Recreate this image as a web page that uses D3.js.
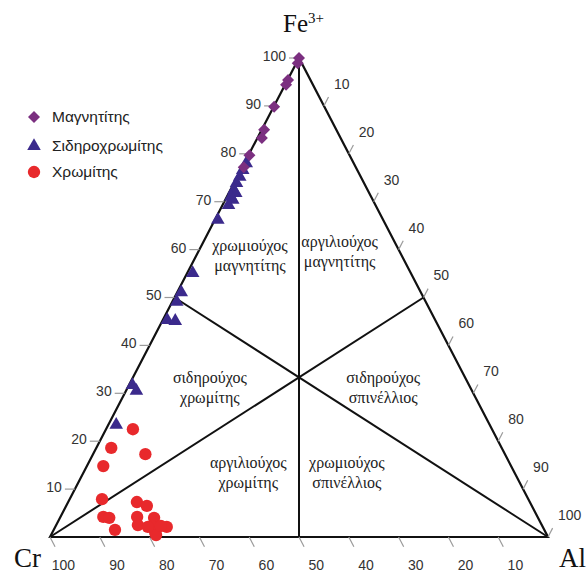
<!DOCTYPE html>
<html>
<head>
<meta charset="utf-8">
<script src="https://cdn.jsdelivr.net/npm/d3@7"></script>
<style>
  body { margin: 0; background: #fff; }
</style>
</head>
<body>
<div id="chart"></div>
<script>
// values, as [Fe3+, Al] percent (Cr = rest)
const magnetite = [[100,0],[98.9,0.3],[95.4,0.1],[94.4,0.2],[89.8,0.1],[85.0,0.5],[83.3,0.9],[79.7,0.2],[77.2,0.3]];
const ferriChromite = [[78.0,0.4],[76.6,0.4],[75.2,0.5],[73.9,0.5],[72.4,0.7],[71.8,1.4],[71.0,0.8],[70.4,1.5],[69.3,1.2],
  [66.2,0.6],[55.1,1.1],[51.1,0.8],[49.1,0.9],[45.3,0.9],[45.1,2.6],[31.7,0.7],[30.5,2.1],[23.4,1.6]];
const chromite = [[22.5,5.4],[18.6,3.0],[17.3,10.5],[14.8,3.3],[7.9,6.5],[4.2,8.6],[4.0,9.9],[1.5,12.3],[7.3,13.8],
  [6.5,16.2],[4.2,15.4],[2.5,16.4],[4.0,18.9],[2.3,19.3],[1.0,20.6],[0.4,21.1],[2.1,22.4],[2.3,21.1],[2.1,18.6]];

const tickValues = [10,20,30,40,50,60,70,80,90,100];
const legendNames = ['Μαγνητίτης','Σιδηροχρωμίτης','Χρωμίτης'];
const regionNames = [
  ['χρωμιούχος','μαγνητίτης'], ['αργιλιούχος','μαγνητίτης'],
  ['σιδηρούχος','χρωμίτης'], ['σιδηρούχος','σπινέλλιος'],
  ['αργιλιούχος','χρωμίτης'], ['χρωμιούχος','σπινέλλιος']
];

const width = 586, height = 574;
const svg = d3.select('#chart').append('svg').attr('width', width).attr('height', height)
  .style('font-family', 'Arial, "Liberation Sans", sans-serif');

//scales (Al along the base, Fe up)
const xScale = d3.scaleLinear().domain([0,100]).range([50,548]);
const yScale = d3.scaleLinear().domain([0,100]).range([537,58]);
const proj = (fe, al) => [xScale(al + fe/2), yScale(fe)];

const crPt = proj(0,0), fePt = proj(100,0), alPt = proj(0,100);

//frame
svg.append('path')
  .attr('d', `M${crPt}L${fePt}L${alPt}Z`)
  .attr('fill', 'none').attr('stroke', '#111').attr('stroke-width', 2.2).attr('stroke-linejoin', 'miter');

// the three medians split the fields
const medians = [[crPt, proj(50,50)], [fePt, proj(0,50)], [alPt, proj(50,0)]];
svg.append('g').selectAll('line').data(medians).join('line')
  .attr('x1', d => d[0][0]).attr('y1', d => d[0][1])
  .attr('x2', d => d[1][0]).attr('y2', d => d[1][1])
  .attr('stroke', '#111').attr('stroke-width', 2);

//ticks
const tickColor = '#9a9a9a', labColor = '#333';
const up = [(fePt[0]-crPt[0]), (fePt[1]-crPt[1])];
const upLen = Math.hypot(up[0], up[1]);
const upDir = [up[0]/upLen, up[1]/upLen];
const dn = [(alPt[0]-fePt[0]), (alPt[1]-fePt[1])];
const dnLen = Math.hypot(dn[0], dn[1]);
const dnDir = [dn[0]/dnLen, dn[1]/dnLen];

// Fe3+ on left side
const leftG = svg.append('g');
tickValues.forEach(v => {
  const p = proj(v, 0);
  leftG.append('line').attr('x1', p[0]-10).attr('x2', p[0]).attr('y1', p[1]).attr('y2', p[1])
    .attr('stroke', tickColor).attr('stroke-width', 1.2);
  leftG.append('text').attr('x', p[0]-13).attr('y', p[1]-2).attr('dy', '0.35em')
    .attr('text-anchor', 'end').style('font-size', '14px').style('fill', labColor).text(v);
});

// Al on right side
const rightG = svg.append('g');
tickValues.forEach(v => {
  const p = proj(100 - v, v);
  rightG.append('line').attr('x1', p[0]).attr('y1', p[1])
    .attr('x2', p[0] + upDir[0]*10).attr('y2', p[1] + upDir[1]*10)
    .attr('stroke', tickColor).attr('stroke-width', 1.2);
  rightG.append('text').attr('x', p[0]+10).attr('y', p[1]-22).attr('dy', '0.35em')
    .attr('text-anchor', 'start').style('font-size', '14px').style('fill', labColor).text(v);
});

// Cr along base
const baseG = svg.append('g');
tickValues.forEach(v => {
  const p = proj(0, 100 - v);
  baseG.append('line').attr('x1', p[0]).attr('y1', p[1])
    .attr('x2', p[0] + dnDir[0]*11).attr('y2', p[1] + dnDir[1]*11)
    .attr('stroke', tickColor).attr('stroke-width', 1.2);
  baseG.append('text').attr('x', p[0]+25).attr('y', p[1]+28).attr('dy', '0.35em')
    .attr('text-anchor', 'end').style('font-size', '14px').style('fill', labColor).text(v);
});

// apex names
const serif = '"Times New Roman", "Liberation Serif", serif';
const feLab = svg.append('text').attr('x', 283).attr('y', 32).style('font-family', serif).style('font-size', '25px').style('fill', '#111');
feLab.append('tspan').text('Fe');
feLab.append('tspan').attr('dy', -9).style('font-size', '15px').text('3+');
svg.append('text').attr('x', 14).attr('y', 567).style('font-family', serif).style('font-size', '27px').style('fill', '#111').text('Cr');
svg.append('text').attr('x', 559).attr('y', 567).style('font-family', serif).style('font-size', '27px').style('fill', '#111').text('Al');

// field names (placed by ternary position of first line)
const regionAt = [[59.7,10.3],[60.5,27.9],[32.2,16.0],[32.2,50.8],[14.4,32.6],[14.4,52.4]];
const regG = svg.append('g').style('font-family', serif).style('font-size', '16px').style('fill', '#222');
regionNames.forEach((lines, i) => {
  const p = proj(regionAt[i][0], regionAt[i][1]);
  const t = regG.append('text').attr('x', p[0]).attr('y', p[1]).attr('text-anchor', 'middle');
  lines.forEach((s, j) => t.append('tspan').attr('x', p[0]).attr('dy', j ? 20 : 0).text(s));
});

//symbols
const colors = ['#7b2f80', '#3b2a8c', '#e8292c'];
const diamond = d3.symbol().type(d3.symbolSquare).size(72)();
const tri = d3.symbol().type(d3.symbolTriangle).size(80)();
const circ = d3.symbol().type(d3.symbolCircle).size(120)();

svg.append('g').selectAll('path').data(chromite).join('path')
  .attr('d', circ).attr('fill', colors[2])
  .attr('transform', d => `translate(${proj(d[0], d[1])})`);

svg.append('g').selectAll('path').data(ferriChromite).join('path')
  .attr('d', tri).attr('fill', colors[1])
  .attr('transform', d => `translate(${proj(d[0], d[1])})`);

svg.append('g').selectAll('path').data(magnetite).join('path')
  .attr('d', diamond).attr('fill', colors[0])
  .attr('transform', d => `translate(${proj(d[0], d[1])}) rotate(45)`);

//legend
const shapes = [diamond, tri, circ];
const legend = svg.append('g');
legendNames.forEach((name, i) => {
  const y = [117, 146, 172][i];
  legend.append('path').attr('d', shapes[i]).attr('fill', colors[i])
    .attr('transform', `translate(34,${y})${i === 0 ? ' rotate(45)' : ''}`);
  legend.append('text').attr('x', 52).attr('y', y).attr('dy', '0.35em')
    .style('font-size', '15.5px').style('fill', '#222').text(name);
});
</script>
</body>
</html>
